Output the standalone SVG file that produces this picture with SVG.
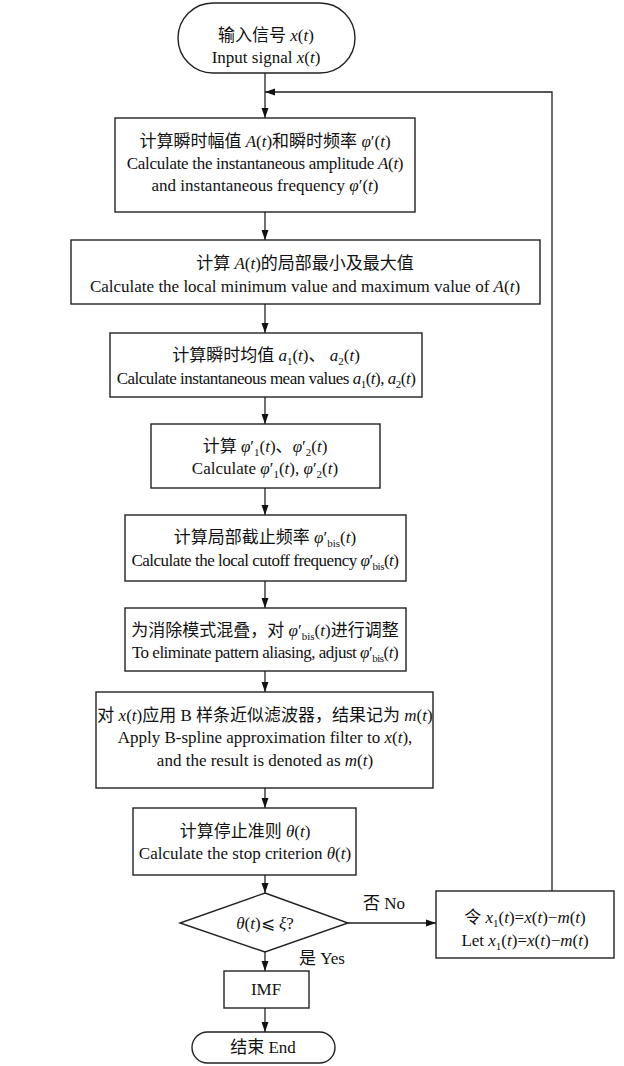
<svg xmlns="http://www.w3.org/2000/svg" width="624" height="1066" viewBox="0 0 624 1066">
<style>
.box{fill:#fff;stroke:#222;stroke-width:1.4}
.ln{fill:none;stroke:#222;stroke-width:1.3}
.t{font-family:"Liberation Serif","Noto Sans CJK SC",serif;font-size:17px;text-anchor:middle;fill:#111}
.i{font-style:italic}
.s{font-size:11px}
.c3{letter-spacing:-0.3px}
.c5{letter-spacing:-0.5px}
</style>
<defs>
<marker id="ar" viewBox="0 0 10 10" refX="10" refY="5" markerWidth="10" markerHeight="10" markerUnits="userSpaceOnUse" orient="auto">
<path d="M0,1.5 L10,5 L0,8.5 Z" fill="#111"/>
</marker>
</defs>
<g id="connectors">
<line class="ln" x1="265" y1="73" x2="265" y2="118" marker-end="url(#ar)"/>
<polyline class="ln" points="552,891 552,92 265,92" marker-end="url(#ar)"/>
<line class="ln" x1="265" y1="212" x2="265" y2="240" marker-end="url(#ar)"/>
<line class="ln" x1="265" y1="304" x2="265" y2="333" marker-end="url(#ar)"/>
<line class="ln" x1="265" y1="397" x2="265" y2="424" marker-end="url(#ar)"/>
<line class="ln" x1="265" y1="488" x2="265" y2="515" marker-end="url(#ar)"/>
<line class="ln" x1="265" y1="581" x2="265" y2="608" marker-end="url(#ar)"/>
<line class="ln" x1="265" y1="671" x2="265" y2="692" marker-end="url(#ar)"/>
<line class="ln" x1="265" y1="788" x2="265" y2="808" marker-end="url(#ar)"/>
<line class="ln" x1="265" y1="875" x2="265" y2="893" marker-end="url(#ar)"/>
<line class="ln" x1="348" y1="923" x2="436" y2="923" marker-end="url(#ar)"/>
<line class="ln" x1="265" y1="952" x2="265" y2="971" marker-end="url(#ar)"/>
<line class="ln" x1="265" y1="1008" x2="265" y2="1032" marker-end="url(#ar)"/>
<text class="t" x="384" y="909">否 No</text>
<text class="t" x="322" y="964">是 Yes</text>
</g>
<g id="start">
<rect class="box" x="178" y="3" width="177" height="70" rx="35"/>
<text class="t" x="266" y="41">输入信号 <tspan class="i">x</tspan>(<tspan class="i">t</tspan>)</text>
<text class="t" x="266" y="63">Input signal <tspan class="i">x</tspan>(<tspan class="i">t</tspan>)</text>
</g>
<g id="n1">
<rect class="box" x="115" y="118" width="300" height="94"/>
<text class="t" x="265" y="147">计算瞬时幅值 <tspan class="i">A</tspan>(<tspan class="i">t</tspan>)和瞬时频率 <tspan class="i">φ</tspan>′(<tspan class="i">t</tspan>)</text>
<text class="t c3" x="265" y="169">Calculate the instantaneous amplitude <tspan class="i">A</tspan>(<tspan class="i">t</tspan>)</text>
<text class="t" x="265" y="191">and instantaneous frequency <tspan class="i">φ</tspan>′(<tspan class="i">t</tspan>)</text>
</g>
<g id="n2">
<rect class="box" x="71" y="240" width="469" height="64"/>
<text class="t" x="305" y="269">计算 <tspan class="i">A</tspan>(<tspan class="i">t</tspan>)的局部最小及最大值</text>
<text class="t" x="305" y="292">Calculate the local minimum value and maximum value of <tspan class="i">A</tspan>(<tspan class="i">t</tspan>)</text>
</g>
<g id="n3">
<rect class="box" x="110" y="333" width="312" height="64"/>
<text class="t" x="266" y="361">计算瞬时均值 <tspan class="i">a</tspan><tspan class="s" dy="4">1</tspan><tspan dy="-4">(</tspan><tspan class="i">t</tspan>)、 <tspan class="i">a</tspan><tspan class="s" dy="4">2</tspan><tspan dy="-4">(</tspan><tspan class="i">t</tspan>)</text>
<text class="t c5" x="266" y="384">Calculate instantaneous mean values <tspan class="i">a</tspan><tspan class="s" dy="4">1</tspan><tspan dy="-4">(</tspan><tspan class="i">t</tspan>), <tspan class="i">a</tspan><tspan class="s" dy="4">2</tspan><tspan dy="-4">(</tspan><tspan class="i">t</tspan>)</text>
</g>
<g id="n4">
<rect class="box" x="151" y="424" width="229" height="64"/>
<text class="t" x="265" y="452">计算 <tspan class="i">φ</tspan>′<tspan class="s" dy="4">1</tspan><tspan dy="-4">(</tspan><tspan class="i">t</tspan>)、<tspan class="i">φ</tspan>′<tspan class="s" dy="4">2</tspan><tspan dy="-4">(</tspan><tspan class="i">t</tspan>)</text>
<text class="t" x="265" y="474">Calculate <tspan class="i">φ</tspan>′<tspan class="s" dy="4">1</tspan><tspan dy="-4">(</tspan><tspan class="i">t</tspan>), <tspan class="i">φ</tspan>′<tspan class="s" dy="4">2</tspan><tspan dy="-4">(</tspan><tspan class="i">t</tspan>)</text>
</g>
<g id="n5">
<rect class="box" x="125" y="515" width="281" height="66"/>
<text class="t" x="265" y="543">计算局部截止频率 <tspan class="i">φ</tspan>′<tspan class="s" dy="4">bis</tspan><tspan dy="-4">(</tspan><tspan class="i">t</tspan>)</text>
<text class="t c5" x="265" y="566">Calculate the local cutoff frequency <tspan class="i">φ</tspan>′<tspan class="s" dy="4">bis</tspan><tspan dy="-4">(</tspan><tspan class="i">t</tspan>)</text>
</g>
<g id="n6">
<rect class="box" x="125" y="608" width="281" height="63"/>
<text class="t" x="265" y="636">为消除模式混叠，对 <tspan class="i">φ</tspan>′<tspan class="s" dy="4">bis</tspan><tspan dy="-4">(</tspan><tspan class="i">t</tspan>)进行调整</text>
<text class="t c5" x="265" y="658">To eliminate pattern aliasing, adjust  <tspan class="i">φ</tspan>′<tspan class="s" dy="4">bis</tspan><tspan dy="-4">(</tspan><tspan class="i">t</tspan>)</text>
</g>
<g id="n7">
<rect class="box" x="96" y="692" width="337" height="96"/>
<text class="t" x="265" y="721">对 <tspan class="i">x</tspan>(<tspan class="i">t</tspan>)应用 B 样条近似滤波器，结果记为 <tspan class="i">m</tspan>(<tspan class="i">t</tspan>)</text>
<text class="t" x="265" y="743">Apply B-spline approximation filter to <tspan class="i">x</tspan>(<tspan class="i">t</tspan>),</text>
<text class="t" x="265" y="766">and the result is denoted as <tspan class="i">m</tspan>(<tspan class="i">t</tspan>)</text>
</g>
<g id="n8">
<rect class="box" x="133" y="808" width="223" height="67"/>
<text class="t" x="245" y="837">计算停止准则 <tspan class="i">θ</tspan>(<tspan class="i">t</tspan>)</text>
<text class="t" x="245" y="859">Calculate the stop criterion <tspan class="i">θ</tspan>(<tspan class="i">t</tspan>)</text>
</g>
<g id="decision">
<polygon class="box" points="265,893 348,923 265,952 180,923"/>
<text class="t" x="265" y="929"><tspan class="i">θ</tspan>(<tspan class="i">t</tspan>)⩽ <tspan class="i">ξ</tspan>?</text>
</g>
<g id="update">
<rect class="box" x="436" y="891" width="178" height="67"/>
<text class="t" x="525" y="923">令 <tspan class="i">x</tspan><tspan class="s" dy="4">1</tspan><tspan dy="-4">(</tspan><tspan class="i">t</tspan>)=<tspan class="i">x</tspan>(<tspan class="i">t</tspan>)−<tspan class="i">m</tspan>(<tspan class="i">t</tspan>)</text>
<text class="t" x="525" y="946">Let <tspan class="i">x</tspan><tspan class="s" dy="4">1</tspan><tspan dy="-4">(</tspan><tspan class="i">t</tspan>)=<tspan class="i">x</tspan>(<tspan class="i">t</tspan>)−<tspan class="i">m</tspan>(<tspan class="i">t</tspan>)</text>
</g>
<g id="imf">
<rect class="box" x="224" y="971" width="85" height="37"/>
<text class="t" x="266" y="995">IMF</text>
</g>
<g id="end">
<rect class="box" x="192" y="1032" width="143" height="31" rx="15.5"/>
<text class="t" x="263" y="1053">结束 End</text>
</g>
</svg>
